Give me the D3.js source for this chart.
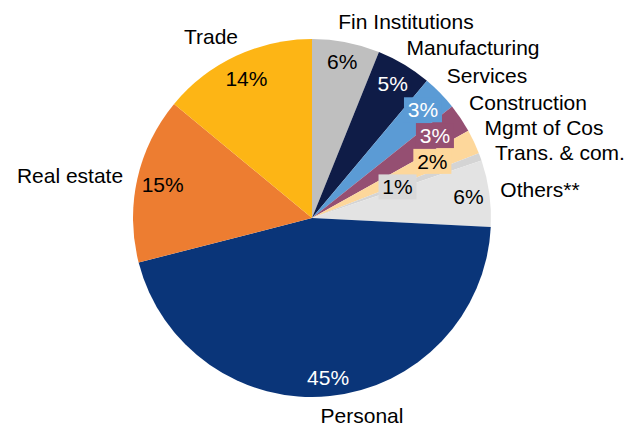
<!DOCTYPE html>
<html>
<head>
<meta charset="utf-8">
<script src="https://cdn.jsdelivr.net/npm/d3@7"></script>
<style>
  body { margin: 0; background: #fff; }
  text { font-family: "Liberation Sans", Arial, sans-serif; font-size: 21px; }
</style>
</head>
<body>
<div id="chart"></div>
<script>
// sectors, clockwise from 12 o'clock
const sectors = ["Fin Institutions", "Manufacturing", "Services", "Construction", "Mgmt of Cos",
  "Trans. & com.", "Others**", "Personal", "Real estate", "Trade"];
// share of loans (%)
const shares = [6.1, 5.0, 3.2, 2.6, 2.2, 0.7, 6.0, 45.2, 15.0, 14.0];
const sliceColors = ["#bfbfbf", "#0f1c47", "#5b9bd5", "#954f72", "#fdd79b",
  "#d4d4d4", "#e3e3e3", "#0a3579", "#ed7d31", "#fdb515"];
const pctTextColors = ["#000", "#fff", "#fff", "#fff", "#000", "#000", "#000", "#fff", "#000", "#000"];

const svgWidth = 629, svgHeight = 427;
const cx = 312, cy = 218, radius = 179;

// how far from the centre each percent label sits
const pctRadius = [159, 157, 155, 148, 133, 91, 158, 160, 153, 154];
// which percent labels carry a filled box
const boxed = [false, false, true, true, true, true, false, false, false, false];
// category label position (centre x, baseline y) relative to pie centre
const nameAt = {
  "Fin Institutions": [94, -189],
  "Manufacturing": [161, -163],
  "Services": [175, -135],
  "Construction": [216, -108],
  "Mgmt of Cos": [232, -83],
  "Trans. & com.": [248, -58],
  "Others**": [228, -21],
  "Personal": [50, 205],
  "Real estate": [-242, -35],
  "Trade": [-101, -174]
};

const data = sectors.map((s, i) => ({ name: s, value: shares[i], i: i }));

const svg = d3.select("#chart")
  .append("svg")
  .attr("width", svgWidth)
  .attr("height", svgHeight);

const g = svg.append("g")
  .attr("transform", `translate(${cx}, ${cy})`);

const pie = d3.pie()
  .value(d => d.value)
  .sort(null);

const arcs = pie(data);

const arc = d3.arc()
  .innerRadius(0)
  .outerRadius(radius);

g.selectAll("path.slice")
  .data(arcs)
  .enter()
  .append("path")
  .attr("class", "slice")
  .attr("d", arc)
  .attr("fill", d => sliceColors[d.data.i]);

// percent labels
const labelPos = d => {
  const a = (d.startAngle + d.endAngle) / 2;
  const r = pctRadius[d.data.i];
  return [r * Math.sin(a), -r * Math.cos(a)];
};

const pctGroup = g.selectAll("g.pct")
  .data(arcs)
  .enter()
  .append("g")
  .attr("class", "pct")
  .attr("transform", d => `translate(${labelPos(d)})`);

pctGroup.filter(d => boxed[d.data.i])
  .append("rect")
  .attr("x", -19)
  .attr("y", -12.5)
  .attr("width", 38)
  .attr("height", 25)
  .attr("fill", d => d.data.i === 5 ? "#d9d9d9" : sliceColors[d.data.i]);

pctGroup.append("text")
  .attr("text-anchor", "middle")
  .attr("dy", "0.36em")
  .attr("fill", d => pctTextColors[d.data.i])
  .text(d => Math.round(d.data.value) + "%");

// category labels
g.selectAll("text.name")
  .data(data)
  .enter()
  .append("text")
  .attr("class", "name")
  .attr("text-anchor", "middle")
  .attr("x", d => nameAt[d.name][0])
  .attr("y", d => nameAt[d.name][1])
  .attr("fill", "#000")
  .text(d => d.name);
</script>
</body>
</html>
